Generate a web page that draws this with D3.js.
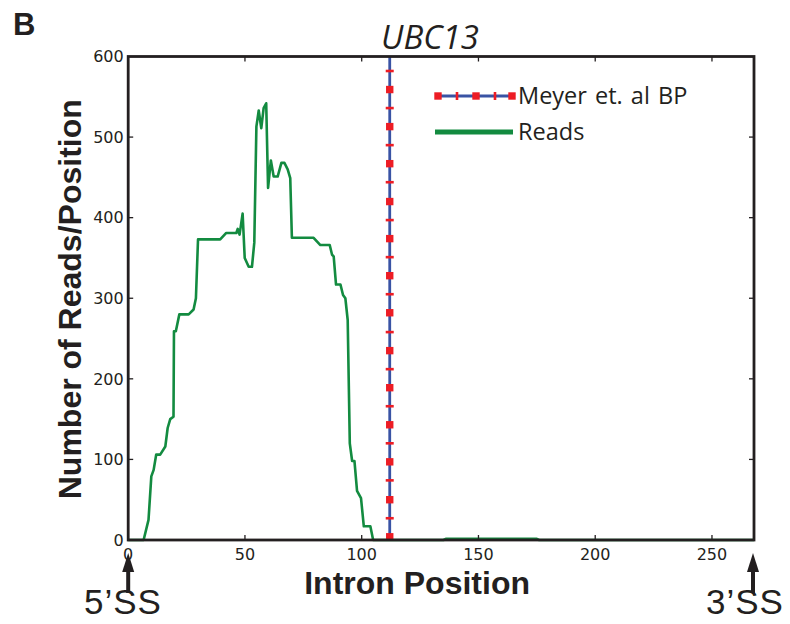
<!DOCTYPE html>
<html>
<head>
<meta charset="utf-8">
<script src="https://cdn.jsdelivr.net/npm/d3@7"></script>
<style>
  body { margin: 0; background: #fff; }
  svg { display: block; }
</style>
</head>
<body>
<svg width="790" height="624"></svg>
<script>
// read positions along the intron and read counts
var readsX = [0, 6.6, 8.7, 9.9, 10.9, 12, 13.7, 15.9, 16.9, 18, 19.4, 19.6, 20.4, 21.9, 25.9, 28, 29, 29.9,
  39.4, 42, 46.3, 46.9, 47.7, 49, 49.9, 51.6, 53, 54, 54.9, 55.9, 57, 58, 59.1, 59.9, 61.1, 62.3, 64,
  65.6, 66.9, 68.3, 69.4, 70.1, 79.4, 82.3, 86.3, 87.3, 88, 89, 90.9, 92, 93, 94, 94.9, 95.9, 96.9,
  98, 99.7, 100.9, 103.7, 104.9, 135, 136, 175, 176, 268];
var readsY = [0, 0, 25, 79, 87, 106, 106, 116, 139, 150, 153, 259, 259, 280, 280, 286, 300, 373,
  373, 381, 381, 386, 379, 405, 350, 339, 339, 369, 513, 533, 511, 536, 542, 437, 471, 451, 451,
  468, 468, 460, 449, 375, 375, 366, 366, 354, 352, 317, 317, 304, 300, 273, 120, 98, 98,
  61, 52, 17, 17, 0, 0, 1.5, 1.5, 0, 0];

// branch point (Meyer et al.) and its marker heights
var bpPos = 112;
var bpSquares = [4, 50, 97, 143, 189, 235, 282, 328, 374, 420, 467, 513, 559];
var bpDashes = [27, 74, 120, 166, 212, 258, 305, 351, 397, 444, 490, 536, 582];

var xTicks = [0, 50, 100, 150, 200, 250];
var yTicks = [0, 100, 200, 300, 400, 500, 600];
var legendLabels = ["Meyer et. al BP", "Reads"];

var dark = "#231f20", green = "#138b40", blue = "#3953a4", red = "#ed1c24";

var svg = d3.select("svg");
var pLeft = 128.2, pRight = 754, pTop = 56.5, pBottom = 540;

var x = d3.scaleLinear().domain([0, 268]).range([pLeft, pRight]);
var y = d3.scaleLinear().domain([0, 600]).range([pBottom, pTop]);

// reads curve
var reads = readsX.map(function (d, i) { return {x: d, y: readsY[i]}; });
var line = d3.line().x(function (d) { return x(d.x); }).y(function (d) { return y(d.y); });
svg.append("path")
  .datum(reads)
  .attr("d", line)
  .attr("fill", "none")
  .attr("stroke", green)
  .attr("stroke-width", 2.6)
  .attr("stroke-linejoin", "round");

// branch point line
svg.append("line")
  .attr("x1", x(bpPos)).attr("x2", x(bpPos))
  .attr("y1", y(0)).attr("y2", y(600))
  .attr("stroke", blue).attr("stroke-width", 2.8);
svg.selectAll(".bpdash").data(bpDashes).join("rect")
  .attr("class", "bpdash")
  .attr("x", x(bpPos) - 4).attr("width", 8)
  .attr("y", function (d) { return y(d) - 1.3; }).attr("height", 2.6)
  .attr("fill", red);
svg.selectAll(".bpsq").data(bpSquares).join("rect")
  .attr("class", "bpsq")
  .attr("x", x(bpPos) - 3.7).attr("width", 7.4)
  .attr("y", function (d) { return y(d) - 3.7; }).attr("height", 7.4)
  .attr("fill", red);

// frame
svg.append("rect")
  .attr("x", pLeft).attr("y", pTop)
  .attr("width", pRight - pLeft).attr("height", pBottom - pTop)
  .attr("fill", "none").attr("stroke", dark).attr("stroke-width", 2.8);

// ticks (inward on all four sides)
var tickLen = 5;
xTicks.forEach(function (t) {
  if (t === 0) return;
  svg.append("line").attr("x1", x(t)).attr("x2", x(t)).attr("y1", pBottom).attr("y2", pBottom - tickLen)
    .attr("stroke", dark).attr("stroke-width", 1.3);
  svg.append("line").attr("x1", x(t)).attr("x2", x(t)).attr("y1", pTop).attr("y2", pTop + tickLen)
    .attr("stroke", dark).attr("stroke-width", 1.3);
});
yTicks.forEach(function (t) {
  if (t === 0 || t === 600) return;
  svg.append("line").attr("x1", pLeft).attr("x2", pLeft + tickLen).attr("y1", y(t)).attr("y2", y(t))
    .attr("stroke", dark).attr("stroke-width", 1.3);
  svg.append("line").attr("x1", pRight).attr("x2", pRight - tickLen).attr("y1", y(t)).attr("y2", y(t))
    .attr("stroke", dark).attr("stroke-width", 1.3);
});

// tick labels
svg.selectAll(".xl").data(xTicks).join("text")
  .attr("class", "xl")
  .attr("x", function (d) { return x(d); }).attr("y", 560)
  .attr("text-anchor", "middle")
  .style("font", "16px 'DejaVu Sans'").attr("fill", dark)
  .text(function (d) { return d; });
svg.selectAll(".yl").data(yTicks).join("text")
  .attr("class", "yl")
  .attr("x", pLeft - 4.5).attr("y", function (d) { return y(d); })
  .attr("dy", "0.36em")
  .attr("text-anchor", "end")
  .style("font", "16px 'DejaVu Sans'").attr("fill", dark)
  .text(function (d) { return d; });

// axis titles
svg.append("text")
  .attr("x", (pLeft + pRight) / 2 - 24).attr("y", 594)
  .attr("text-anchor", "middle")
  .style("font", "bold 32px 'Liberation Sans'").attr("fill", dark)
  .text("Intron Position");
svg.append("text")
  .attr("transform", "translate(81," + ((pTop + pBottom) / 2 + 1) + ") rotate(-90)")
  .attr("text-anchor", "middle")
  .style("font", "bold 32px 'Liberation Sans'").attr("fill", dark)
  .text("Number of Reads/Position");

// title and panel letter
svg.append("text")
  .attr("x", 430).attr("y", 49)
  .attr("text-anchor", "middle")
  .style("font", "italic 33px 'Open Sans'").attr("fill", dark)
  .text("UBC13");
svg.append("text")
  .attr("x", 13).attr("y", 35)
  .style("font", "bold 31px 'Liberation Sans'").attr("fill", dark)
  .text("B");

// legend
var lg = svg.append("g");
lg.append("line").attr("x1", 438).attr("x2", 512).attr("y1", 96).attr("y2", 96)
  .attr("stroke", blue).attr("stroke-width", 2.8);
[457, 495].forEach(function (p) {
  lg.append("rect").attr("x", p - 1.3).attr("y", 92).attr("width", 2.6).attr("height", 8).attr("fill", red);
});
[438, 476, 512].forEach(function (p) {
  lg.append("rect").attr("x", p - 3.7).attr("y", 92.3).attr("width", 7.4).attr("height", 7.4).attr("fill", red);
});
lg.append("line").attr("x1", 435).attr("x2", 513).attr("y1", 132).attr("y2", 132)
  .attr("stroke", green).attr("stroke-width", 5);
lg.selectAll("text").data(legendLabels).join("text")
  .attr("x", 518).attr("y", function (d, i) { return 104 + i * 36; })
  .style("font", "23.5px 'Open Sans'").style("word-spacing", "2px").attr("fill", dark)
  .text(function (d) { return d; });

// splice site arrows
function arrow(cx, label, tx) {
  var p = d3.path();
  p.moveTo(cx - 6, 572); p.lineTo(cx, 553); p.lineTo(cx + 6, 572); p.closePath();
  svg.append("path").attr("d", p.toString()).attr("fill", dark);
  svg.append("line").attr("x1", cx).attr("x2", cx).attr("y1", 568).attr("y2", 593)
    .attr("stroke", dark).attr("stroke-width", 4);
  svg.append("text").attr("x", tx).attr("y", 614)
    .attr("text-anchor", "middle")
    .style("font", "35px 'Liberation Sans'").style("letter-spacing", "1px").attr("fill", dark)
    .text(label);
}
arrow(x(0), "5\u2019SS", 123);
arrow(x(268) - 1, "3\u2019SS", 745);
</script>
</body>
</html>
